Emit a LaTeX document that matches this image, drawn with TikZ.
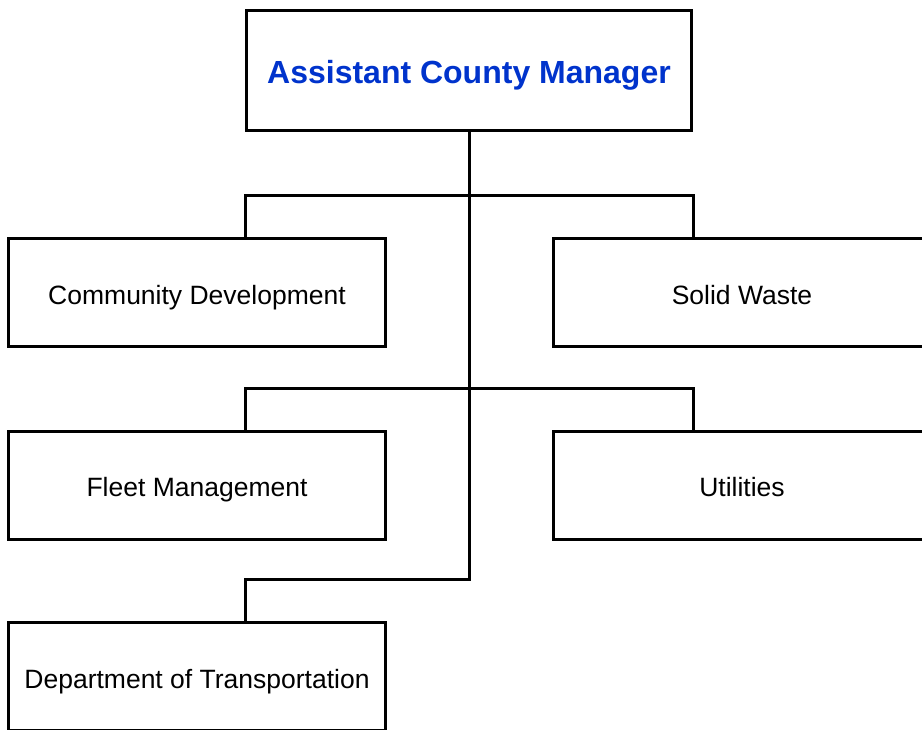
\documentclass[tikz,border=0pt]{standalone}
\usepackage{fontspec}
\setmainfont{Liberation Sans}
\usepackage{xcolor}
\usepackage{tikz}
\usetikzlibrary{shapes}
\definecolor{titleblue}{RGB}{0,51,204}
\tikzset{
    unitbox/.style = {draw, line width = 3pt, minimum width = 377pt,
        minimum height = 108pt, inner sep = 0pt,
        text height = 23pt, text depth = 0pt,
        font = \fontsize{26.5}{31}\selectfont},
    headbox/.style = {draw, line width = 3pt, minimum width = 445pt,
        minimum height = 120pt, inner sep = 0pt, text = titleblue,
        text height = 27pt, text depth = 0pt,
        font = \fontsize{32}{37}\selectfont\bfseries},
    link/.style = {line width = 3pt}
}
\begin{document}
\begin{tikzpicture}[x = 1pt, y = -1pt]
        \useasboundingbox (0, 0) rectangle (922, 730);
        \clip (0, 0) rectangle (922, 730);

        \node[headbox] (acm) at (469, 70.5) {Assistant County Manager};
        \node[unitbox] (comdev) at (197, 293) {Community Development};
        \node[unitbox] (solid) at (742, 293) {Solid Waste};
        \node[unitbox] (fleet) at (197, 485) {Fleet Management};
        \node[unitbox] (util) at (742, 485) {Utilities};
        \node[unitbox] (dot) at (197, 676.5) {Department of Transportation};

        \coordinate (j1) at (469, 196);
        \coordinate (j2) at (469, 388);
        \coordinate (j3) at (469, 579);

        \draw[link] (acm.south) -- (j3) -| (dot.north -| acm.west);
        \draw[link] (comdev.north -| acm.west) |- (j1) -| (solid.north -| acm.east);
        \draw[link] (fleet.north -| acm.west) |- (j2) -| (util.north -| acm.east);
\end{tikzpicture}
\end{document}
